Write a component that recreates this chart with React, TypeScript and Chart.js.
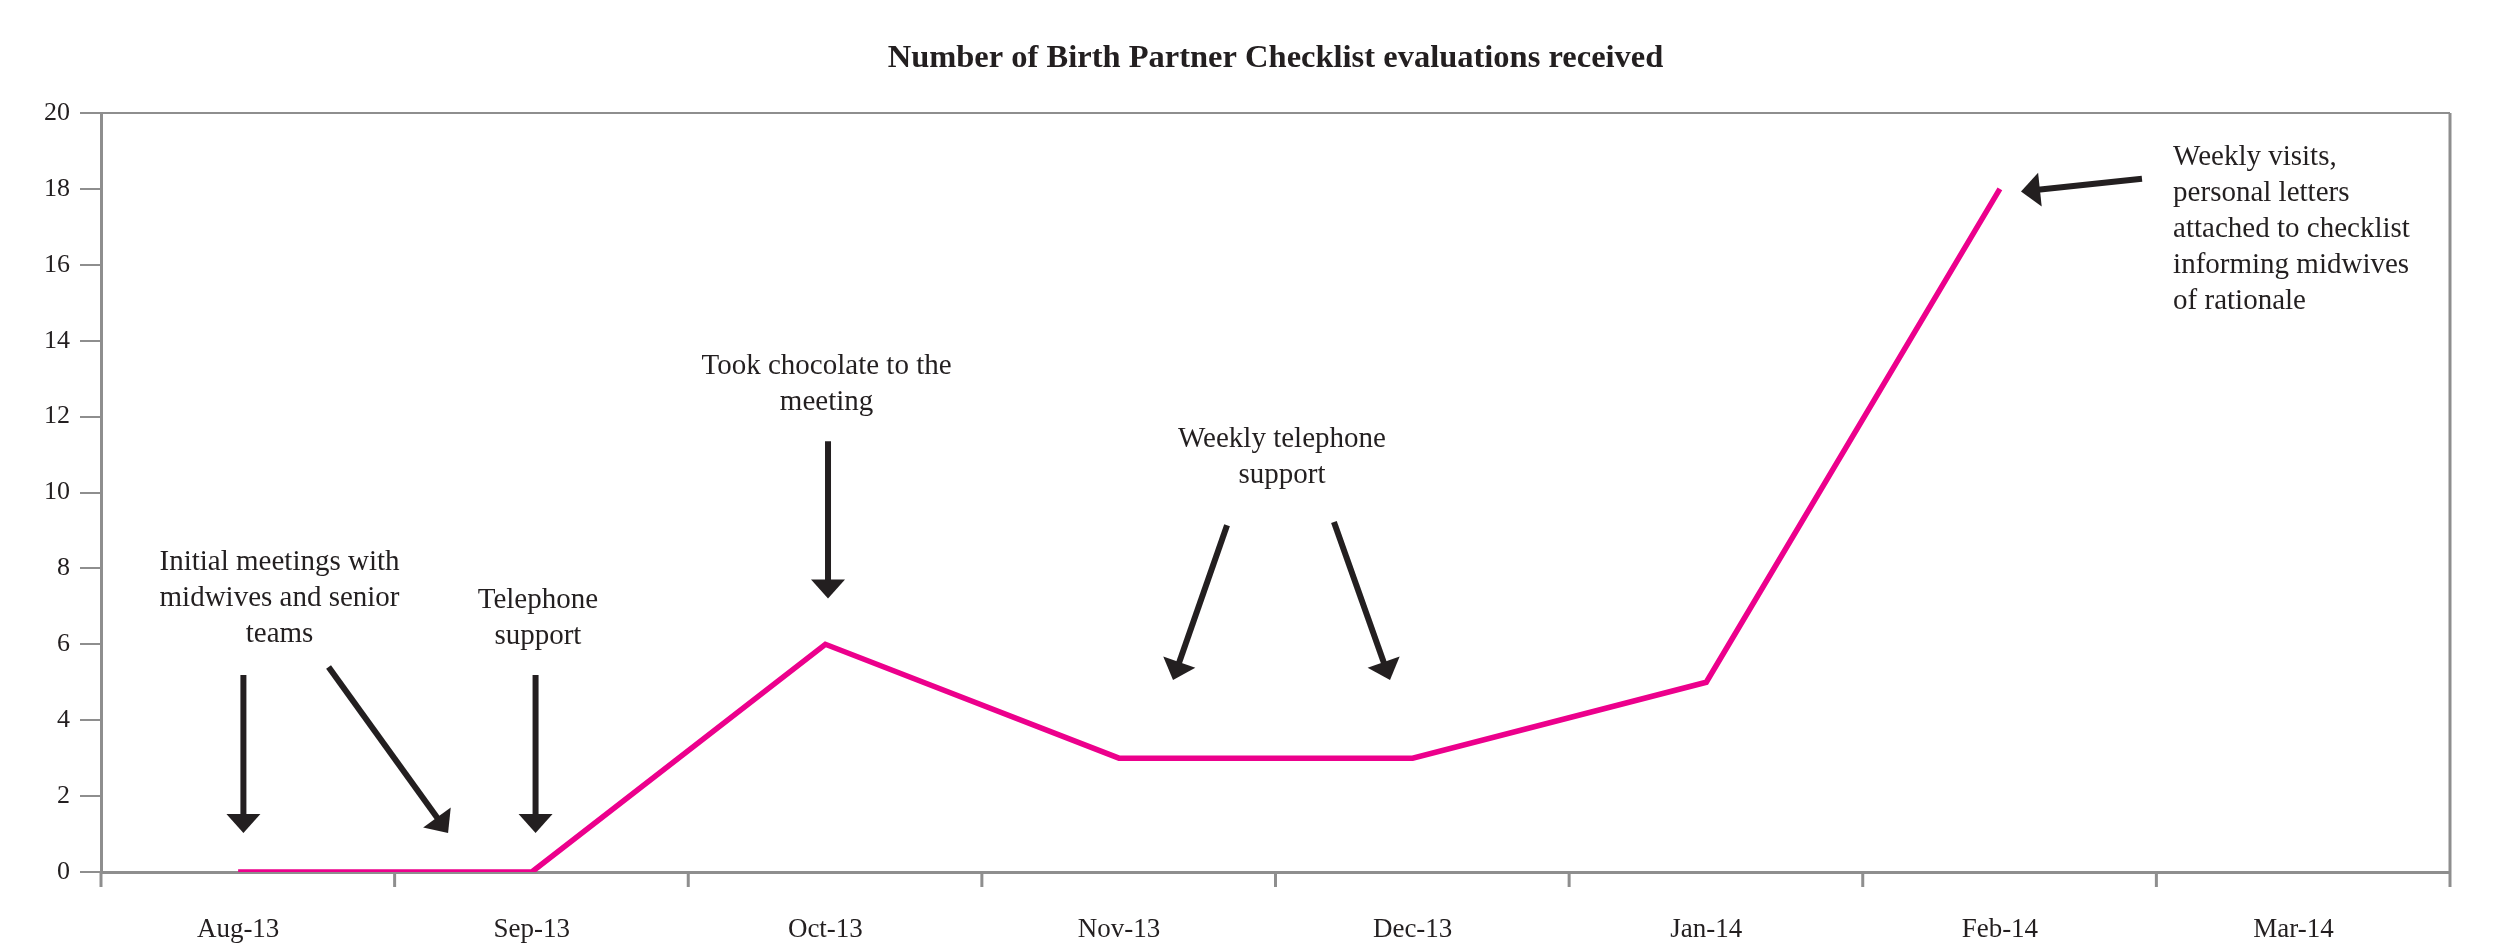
import React, { useEffect, useRef } from 'react';
import { Chart, registerables } from 'chart.js';

Chart.register(...registerables);

// ---- data ----
const TITLE = 'Number of Birth Partner Checklist evaluations received';
const MONTHS = ['Aug-13', 'Sep-13', 'Oct-13', 'Nov-13', 'Dec-13', 'Jan-14', 'Feb-14', 'Mar-14'];
const EVALUATIONS: (number | null)[] = [0, 0, 6, 3, 3, 5, 18, null];
const Y_MIN = 0;
const Y_MAX = 20;
const Y_STEP = 2;

// annotation texts (x in month index units, y in value units = first baseline)
const NOTE_TEXTS: string[][] = [
  ['Initial meetings with', 'midwives and senior', 'teams'],
  ['Telephone', 'support'],
  ['Took chocolate to the', 'meeting'],
  ['Weekly telephone', 'support'],
  ['Weekly visits,', 'personal letters', 'attached to checklist', 'informing midwives', 'of rationale'],
];
const NOTE_X = [0.141, 1.021, 2.004, 3.555, 6.59];
const NOTE_Y = [7.95, 6.95, 13.11, 11.19, 18.62];
const NOTE_ALIGN: CanvasTextAlign[] = ['center', 'center', 'center', 'center', 'left'];

// arrows: tail (from) -> head (to), in month index / value units
const ARROW_FROM_X = [0.018, 0.308, 1.013, 2.009, 3.368, 3.732, 6.484];
const ARROW_FROM_Y = [5.19, 5.4, 5.19, 11.35, 9.14, 9.22, 18.27];
const ARROW_TO_X = [0.018, 0.715, 1.013, 2.009, 3.184, 3.923, 6.072];
const ARROW_TO_Y = [1.03, 1.03, 1.03, 7.21, 5.06, 5.06, 17.93];

// ---- styles ----
const FAMILY = "'Liberation Serif', 'Times New Roman', serif";
const TEXT_COLOR = '#231F20';
const AXIS_COLOR = '#8E8E8E';
const LINE_COLOR = '#EC008C';

function drawArrow(ctx: CanvasRenderingContext2D, x1: number, y1: number, x2: number, y2: number) {
  const headLen = 19;
  const headW = 34;
  const dx = x2 - x1;
  const dy = y2 - y1;
  const len = Math.hypot(dx, dy);
  const ux = dx / len;
  const uy = dy / len;
  const px = -uy;
  const py = ux;
  const bx = x2 - ux * headLen;
  const by = y2 - uy * headLen;
  ctx.beginPath();
  ctx.moveTo(x1, y1);
  ctx.lineTo(bx + ux * 2, by + uy * 2);
  ctx.stroke();
  ctx.beginPath();
  ctx.moveTo(x2, y2);
  ctx.lineTo(bx + px * headW / 2, by + py * headW / 2);
  ctx.lineTo(bx - px * headW / 2, by - py * headW / 2);
  ctx.closePath();
  ctx.fill();
}

const framePlugin = {
  id: 'frameAndNotes',
  beforeDatasetsDraw(chart: any) {
    const { ctx, chartArea: a, scales } = chart;
    const x = scales.x;
    ctx.save();
    ctx.strokeStyle = AXIS_COLOR;
    ctx.lineWidth = 2;
    ctx.beginPath();
    ctx.moveTo(a.left, a.top);
    ctx.lineTo(a.right, a.top);
    ctx.stroke();
    ctx.lineWidth = 3;
    ctx.beginPath();
    ctx.moveTo(a.right, a.top);
    ctx.lineTo(a.right, a.bottom);
    ctx.stroke();
    for (let k = 0; k <= MONTHS.length; k++) {
      const px = x.getPixelForValue(x.min + k);
      ctx.beginPath();
      ctx.moveTo(px, a.bottom);
      ctx.lineTo(px, a.bottom + 15);
      ctx.stroke();
    }
    ctx.restore();
  },
  afterDatasetsDraw(chart: any) {
    const { ctx, scales } = chart;
    const x = scales.x;
    const y = scales.y;
    ctx.save();
    ctx.fillStyle = TEXT_COLOR;
    ctx.strokeStyle = TEXT_COLOR;
    ctx.lineWidth = 6;
    ctx.lineCap = 'butt';
    for (let i = 0; i < ARROW_FROM_X.length; i++) {
      drawArrow(
        ctx,
        x.getPixelForValue(ARROW_FROM_X[i]),
        y.getPixelForValue(ARROW_FROM_Y[i]),
        x.getPixelForValue(ARROW_TO_X[i]),
        y.getPixelForValue(ARROW_TO_Y[i])
      );
    }
    ctx.font = `29px ${FAMILY}`;
    ctx.textBaseline = 'alphabetic';
    for (let i = 0; i < NOTE_TEXTS.length; i++) {
      ctx.textAlign = NOTE_ALIGN[i];
      const px = x.getPixelForValue(NOTE_X[i]);
      const py = y.getPixelForValue(NOTE_Y[i]);
      NOTE_TEXTS[i].forEach((line, j) => ctx.fillText(line, px, py + j * 36));
    }
    ctx.restore();
  },
};

export default function App() {
  const canvasRef = useRef<HTMLCanvasElement | null>(null);

  useEffect(() => {
    document.body.style.margin = '0';
    const canvas = canvasRef.current;
    if (!canvas) return;
    const chart = new Chart(canvas, {
      type: 'line',
      data: {
        datasets: [
          {
            label: 'Evaluations',
            data: EVALUATIONS.map((v, i) => ({ x: i, y: v })) as any,
            borderColor: LINE_COLOR,
            backgroundColor: LINE_COLOR,
            borderWidth: 5.5,
            pointRadius: 0,
            tension: 0,
            fill: false,
            borderJoinStyle: 'miter',
          },
        ],
      },
      options: {
        animation: false,
        responsive: false,
        devicePixelRatio: 1,
        layout: { padding: { left: 0, right: 46, top: 0, bottom: 0 } },
        plugins: {
          legend: { display: false },
          tooltip: { enabled: false },
          title: {
            display: true,
            text: TITLE,
            fullSize: false,
            color: TEXT_COLOR,
            font: { family: FAMILY, size: 32.5, weight: 'bold' },
            padding: { top: 39, bottom: 35 },
          },
        },
        scales: {
          x: {
            type: 'linear',
            position: 'bottom',
            min: -0.467,
            max: MONTHS.length - 0.467,
            afterBuildTicks: (s: any) => {
              s.ticks = MONTHS.map((_, i) => ({ value: i }));
            },
            afterFit: (s: any) => {
              s.height = 73;
            },
            ticks: {
              callback: (v: any) => MONTHS[v] ?? '',
              autoSkip: false,
              maxRotation: 0,
              minRotation: 0,
              color: TEXT_COLOR,
              font: { family: FAMILY, size: 27 },
              padding: 34,
            },
            grid: { display: false },
            border: { display: true, color: AXIS_COLOR, width: 3 },
          },
          y: {
            type: 'linear',
            min: Y_MIN,
            max: Y_MAX,
            afterFit: (s: any) => {
              s.width = 101;
            },
            ticks: {
              stepSize: Y_STEP,
              color: TEXT_COLOR,
              font: { family: FAMILY, size: 26 },
              padding: 10,
            },
            grid: {
              drawOnChartArea: false,
              drawTicks: true,
              tickLength: 21,
              color: AXIS_COLOR,
              lineWidth: 2,
            },
            border: { display: true, color: AXIS_COLOR, width: 3 },
          },
        },
      },
      plugins: [framePlugin],
    } as any);
    return () => chart.destroy();
  }, []);

  return (
    <div style={{ width: 2496, height: 945 }}>
      <canvas ref={canvasRef} width={2496} height={945} style={{ display: 'block' }} />
    </div>
  );
}
